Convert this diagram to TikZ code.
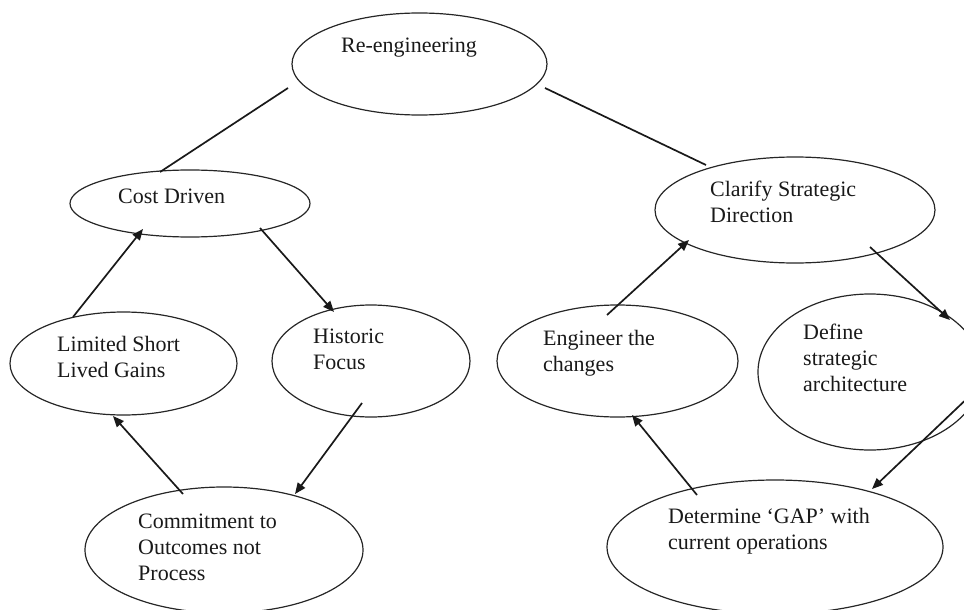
\documentclass[tikz,border=0pt]{standalone}
\usepackage{fontspec}
\setmainfont{Liberation Serif}
\usetikzlibrary{arrows.meta,shapes.geometric}
\begin{document}
\begin{tikzpicture}[x=1pt,y=-1pt,
  bubble/.style={draw=black!85,line width=1.2pt,ellipse,inner sep=0pt},
  % captions are placed by the baseline of their last line
  caption/.style={anchor=base west,align=left,inner sep=0pt,text=black!90,
    font=\fontsize{22}{26}\selectfont},
  link/.style={line width=1.7pt,black!90},
  flow/.style={link,-{Triangle[length=11pt,width=9pt]}}]
\useasboundingbox (0,0) rectangle (964,610);
\clip (0,0) rectangle (964,610);

% ellipses
\node[bubble,minimum width=255,minimum height=102] (re)   at (419.5,64) {};
\node[bubble,minimum width=240,minimum height=67]  (cost) at (190,203.5) {};
\node[bubble,minimum width=227,minimum height=103] (lim)  at (123.5,363.5) {};
\node[bubble,minimum width=198,minimum height=112] (hist) at (371,361) {};
\node[bubble,minimum width=278,minimum height=126] (comm) at (224,550) {};
\node[bubble,minimum width=280,minimum height=106] (clar) at (795,210) {};
\node[bubble,minimum width=224,minimum height=156] (def)  at (870,372) {};
\node[bubble,minimum width=241,minimum height=112] (eng)  at (617.5,361) {};
\node[bubble,minimum width=336,minimum height=134] (det)  at (775,547) {};

% texts
\node[caption] (tre)   at (341,53)  {Re-engineering};
\node[caption] (tcost) at (118,203) {Cost Driven};
\node[caption] (tlim)  at (57,377)  {Limited Short\\Lived Gains};
\node[caption] (thist) at (313,369) {Historic\\Focus};
\node[caption] (tcomm) at (138,580) {Commitment to\\Outcomes not\\Process};
\node[caption] (tclar) at (710,222) {Clarify Strategic\\Direction};
\node[caption] (tdef)  at (803,391) {Define\\strategic\\architecture};
\node[caption] (teng)  at (543,371) {Engineer the\\changes};
\node[caption] (tdet)  at (668,549) {Determine ‘GAP’ with\\current operations};

% plain links from the top
\draw[link] ([shift={(-131.5,24)}]re.center) -- ([shift={(-30,-31.5)}]cost.center);
\draw[link] ([shift={(125.5,24)}]re.center) -- ([shift={(-89,-45)}]clar.center);

% left cycle
\draw[flow] ([shift={(-50.5,-46.5)}]lim.center) -- ([shift={(-47,25.5)}]cost.center);
\draw[flow] ([shift={(70,24.5)}]cost.center) -- ([shift={(-37,-49)}]hist.center);
\draw[flow] ([shift={(-9,42)}]hist.center) -- ([shift={(71,-56)}]comm.center);
\draw[flow] ([shift={(-41,-56)}]comm.center) -- ([shift={(-10.5,52.5)}]lim.center);

% right cycle
\draw[flow] ([shift={(-10.5,-46)}]eng.center) -- ([shift={(-106,30)}]clar.center);
\draw[flow] ([shift={(75,37)}]clar.center) -- ([shift={(80,-52)}]def.center);
\draw[flow] ([shift={(105,19)}]def.center) -- ([shift={(97,-58)}]det.center);
\draw[flow] ([shift={(-78,-52)}]det.center) -- ([shift={(14.5,54)}]eng.center);
\end{tikzpicture}
\end{document}
